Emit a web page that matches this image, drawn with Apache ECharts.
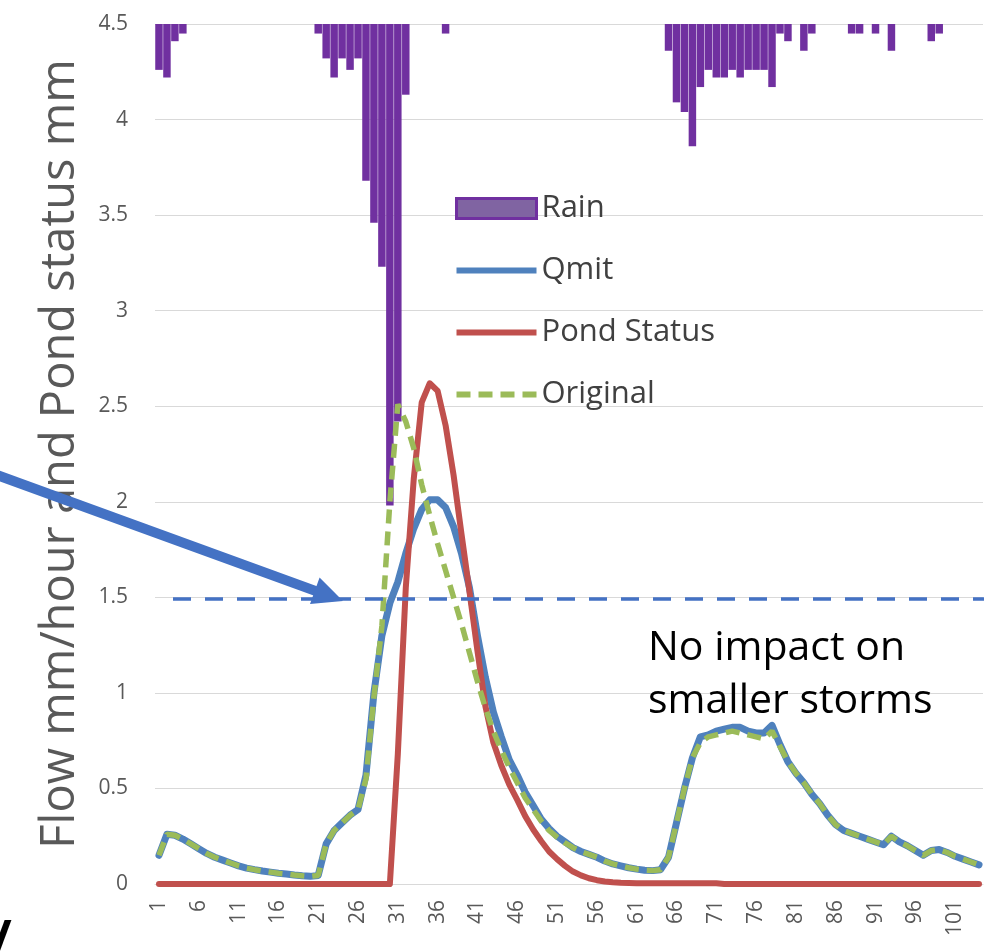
<!DOCTYPE html>
<html>
<head>
<meta charset="utf-8">
<script src="https://cdn.jsdelivr.net/npm/echarts@6/dist/echarts.min.js"></script>
<style>
html,body{margin:0;padding:0;background:#fff;}
#chart{width:999px;height:952px;}
</style>
</head>
<body>
<div id="chart"></div>
<script>
const categories = ['1','2','3','4','5','6','7','8','9','10','11','12','13','14','15','16','17','18','19','20',
'21','22','23','24','25','26','27','28','29','30','31','32','33','34','35','36','37','38','39','40',
'41','42','43','44','45','46','47','48','49','50','51','52','53','54','55','56','57','58','59','60',
'61','62','63','64','65','66','67','68','69','70','71','72','73','74','75','76','77','78','79','80',
'81','82','83','84','85','86','87','88','89','90','91','92','93','94','95','96','97','98','99','100',
'101','102','103','104'];

const rain = [
0.24,0.28,0.09,0.05,0,0,0,0,0,0,
0,0,0,0,0,0,0,0,0,0,
0.05,0.18,0.28,0.18,0.24,0.18,0.82,1.04,1.27,2.52,
2.08,0.37,0,0,0,0,0.05,0,0,0,
0,0,0,0,0,0,0,0,0,0,
0,0,0,0,0,0,0,0,0,0,
0,0,0,0,0.14,0.41,0.46,0.64,0.33,0.24,
0.28,0.28,0.24,0.28,0.24,0.24,0.24,0.33,0.05,0.09,
0,0.14,0.05,0,0,0,0,0.05,0.05,0,
0.05,0,0.14,0,0,0,0,0.09,0.05,0,
0,0,0,0];

const qmit = [
0.15,0.26,0.255,0.235,0.21,0.185,0.16,0.14,0.125,0.11,
0.095,0.083,0.075,0.068,0.062,0.056,0.052,0.047,0.043,0.04,
0.045,0.21,0.28,0.32,0.36,0.39,0.57,1.0,1.3,1.47,
1.58,1.73,1.86,1.96,2.01,2.01,1.97,1.87,1.73,1.55,
1.3,1.08,0.9,0.77,0.65,0.57,0.48,0.41,0.34,0.29,
0.25,0.22,0.19,0.17,0.155,0.14,0.12,0.105,0.095,0.085,
0.078,0.072,0.07,0.075,0.14,0.32,0.5,0.66,0.77,0.78,
0.8,0.81,0.82,0.82,0.8,0.79,0.79,0.83,0.73,0.64,
0.58,0.53,0.47,0.42,0.36,0.31,0.28,0.265,0.25,0.235,
0.22,0.205,0.25,0.22,0.2,0.175,0.15,0.175,0.18,0.165,
0.145,0.13,0.115,0.1];

const pond = [
0,0,0,0,0,0,0,0,0,0,
0,0,0,0,0,0,0,0,0,0,
0,0,0,0,0,0,0,0,0,0,
0.68,1.55,2.12,2.52,2.62,2.58,2.4,2.14,1.83,1.53,
1.22,0.93,0.74,0.62,0.52,0.44,0.355,0.285,0.225,0.17,
0.13,0.095,0.065,0.045,0.03,0.02,0.013,0.009,0.006,0.005,
0.004,0.004,0.004,0.004,0.004,0.004,0.004,0.004,0.004,0.004,
0.004,0,0,0,0,0,0,0,0,0,
0,0,0,0,0,0,0,0,0,0,
0,0,0,0,0,0,0,0,0,0,
0,0,0,0];

const original = [
0.15,0.26,0.255,0.235,0.21,0.185,0.16,0.14,0.125,0.11,
0.095,0.083,0.075,0.068,0.062,0.056,0.052,0.047,0.043,0.04,
0.045,0.21,0.28,0.32,0.36,0.39,0.55,0.98,1.35,2.0,
2.51,2.42,2.28,2.09,1.93,1.78,1.64,1.5,1.36,1.21,
1.06,0.92,0.8,0.7,0.61,0.53,0.45,0.39,0.33,0.28,
0.245,0.215,0.19,0.17,0.155,0.14,0.12,0.105,0.095,0.085,
0.078,0.072,0.07,0.075,0.14,0.32,0.5,0.66,0.74,0.77,
0.78,0.79,0.8,0.79,0.78,0.77,0.76,0.8,0.72,0.64,
0.58,0.53,0.47,0.42,0.36,0.31,0.28,0.265,0.25,0.235,
0.22,0.205,0.25,0.22,0.2,0.175,0.15,0.175,0.18,0.165,
0.145,0.13,0.115,0.1];

const thresholdValue = 1.49;
const FONT = 'Open Sans';

const chart = echarts.init(document.getElementById('chart'), null, {renderer: 'canvas'});

// arrow geometry (annotation)
const tip = [343, 601];
const start = [-6, 474];
const dx = tip[0]-start[0], dy = tip[1]-start[1];
const len = Math.sqrt(dx*dx+dy*dy);
const ux = dx/len, uy = dy/len;
const headLen = 30, headHalf = 14;
const base = [tip[0]-ux*headLen, tip[1]-uy*headLen];
const p1 = [base[0]-uy*headHalf, base[1]+ux*headHalf];
const p2 = [base[0]+uy*headHalf, base[1]-ux*headHalf];

const solidIcon = 'path://M0,0L80,0L80,6L0,6Z';
const dashIcon = 'path://M0,0h14v6h-14zM22,0h14v6h-14zM44,0h14v6h-14zM66,0h14v6h-14z';

chart.setOption({
  animation: false,
  textStyle: {fontFamily: FONT},
  grid: {left: 155, right: 16, top: 24, bottom: 68},
  legend: {
    orient: 'vertical',
    left: 455,
    top: 193,
    padding: 0,
    itemWidth: 80,
    itemHeight: 20,
    itemGap: 31,
    textStyle: {fontSize: 31, color: '#404040', fontFamily: FONT, lineHeight: 30},
    data: [
      {name: 'Rain', icon: 'rect', itemStyle: {color: '#8064A2', borderColor: '#7030A0', borderWidth: 3}},
      {name: 'Qmit', icon: solidIcon, itemStyle: {color: '#4F81BD'}},
      {name: 'Pond Status', icon: solidIcon, itemStyle: {color: '#C0504D'}},
      {name: 'Original', icon: dashIcon, itemStyle: {color: '#9BBB59'}}
    ]
  },
  xAxis: {
    type: 'category',
    data: categories,
    boundaryGap: true,
    axisTick: {show: false},
    axisLine: {show: true, lineStyle: {color: '#D9D9D9', width: 1}},
    axisLabel: {interval: 4, rotate: 90, fontSize: 21, color: '#595959', margin: 16, fontFamily: FONT}
  },
  yAxis: [
    {
      type: 'value',
      min: 0, max: 4.5, interval: 0.5,
      name: 'Flow mm/hour and Pond status mm',
      nameLocation: 'middle',
      nameRotate: 90,
      nameGap: 71,
      nameTextStyle: {fontSize: 47, color: '#595959', fontFamily: FONT, lineHeight: 47},
      axisLine: {show: false},
      axisTick: {show: false},
      axisLabel: {fontSize: 21, color: '#595959', margin: 27, fontFamily: FONT},
      splitLine: {lineStyle: {color: '#D9D9D9', width: 1}}
    },
    {
      type: 'value',
      min: 0, max: 4.5,
      inverse: true,
      show: false,
      splitLine: {show: false}
    }
  ],
  series: [
    {
      name: 'Rain',
      type: 'bar',
      yAxisIndex: 1,
      data: rain,
      barCategoryGap: '6%',
      itemStyle: {color: '#7030A0'},
      z: 1
    },
    {
      name: 'Qmit',
      type: 'line',
      data: qmit,
      symbol: 'none',
      color: '#4F81BD',
      lineStyle: {color: '#4F81BD', width: 7, cap: 'round', join: 'round'},
      z: 2,
      markLine: {
        silent: true,
        symbol: ['none', 'none'],
        label: {show: false},
        lineStyle: {color: '#4472C4', width: 3.5, type: [18, 14]},
        emphasis: {disabled: true},
        data: [[{x: 173, yAxis: thresholdValue}, {x: 984, yAxis: thresholdValue}]]
      }
    },
    {
      name: 'Pond Status',
      type: 'line',
      data: pond,
      symbol: 'none',
      color: '#C0504D',
      lineStyle: {color: '#C0504D', width: 6, cap: 'round', join: 'round'},
      z: 3
    },
    {
      name: 'Original',
      type: 'line',
      data: original,
      symbol: 'none',
      color: '#9BBB59',
      lineStyle: {color: '#9BBB59', width: 5.5, type: [14, 8]},
      z: 4
    }
  ],
  graphic: [
    {
      type: 'line',
      shape: {x1: start[0], y1: start[1], x2: base[0]+ux*2, y2: base[1]+uy*2},
      style: {stroke: '#4472C4', lineWidth: 10},
      z: 100
    },
    {
      type: 'polygon',
      shape: {points: [tip, p1, p2]},
      style: {fill: '#4472C4'},
      z: 100
    },
    {
      type: 'text',
      left: 648,
      top: 622,
      style: {
        text: 'No impact on\nsmaller storms',
        font: '41px "Open Sans"',
        lineHeight: 53,
        fill: '#000000'
      },
      z: 100
    },
    {
      type: 'text',
      left: -9,
      top: 917,
      style: {
        text: '/',
        font: 'bold 50px "Open Sans"',
        fill: '#000000'
      },
      z: 100
    }
  ]
});
</script>
</body>
</html>
